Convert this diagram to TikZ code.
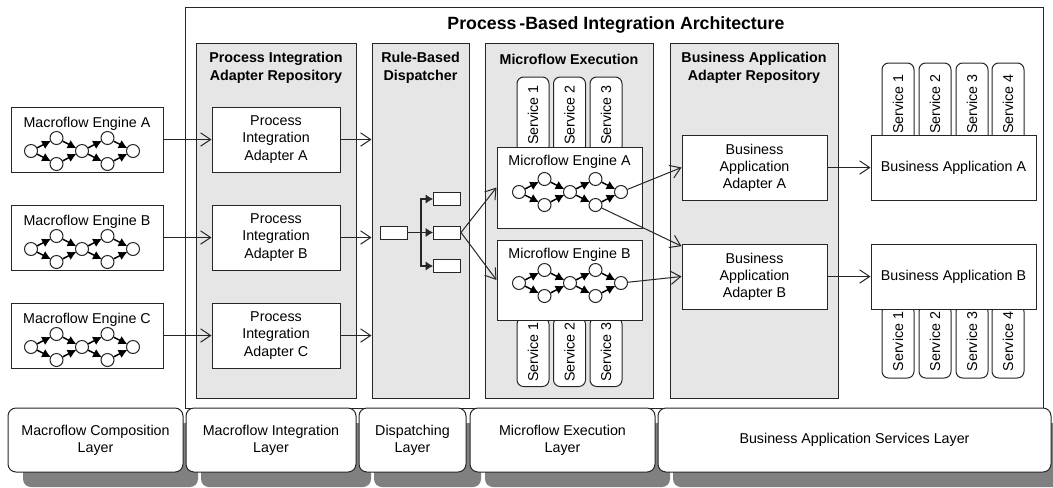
\documentclass[tikz,border=0pt]{standalone}
\usepackage{fontspec}
\setmainfont{Liberation Sans}
\usetikzlibrary{arrows.meta, shadows}

\newcommand{\upx}{0.75pt}
\newcommand{\baseFont}{\fontsize{10.7}{12.8}\selectfont}
\newcommand{\headFont}{\fontsize{10.7}{13.5}\selectfont\bfseries}
\newcommand{\titleFont}{\fontsize{13.3}{16}\selectfont\bfseries}
\definecolor{lineGray}{HTML}{262626}
\definecolor{panelGray}{HTML}{E6E6E6}
\definecolor{shadowGray}{HTML}{808080}

% small petri net: name, x, y of the middle place
\newcommand{\petriNet}[3]{
    \node[place] (#1-s) at (#2-51,#3) {};
    \node[place] (#1-u1) at (#2-25.5,#3-13) {};
    \node[place] (#1-d1) at (#2-25.5,#3+13) {};
    \node[place] (#1-m) at (#2,#3) {};
    \node[place] (#1-u2) at (#2+25.5,#3-13) {};
    \node[place] (#1-d2) at (#2+25.5,#3+13) {};
    \node[place] (#1-e) at (#2+51,#3) {};
    \draw[token] (#1-s) -- (#1-u1);
    \draw[token] (#1-s) -- (#1-d1);
    \draw[token] (#1-u1) -- (#1-m);
    \draw[token] (#1-d1) -- (#1-m);
    \draw[token] (#1-m) -- (#1-u2);
    \draw[token] (#1-m) -- (#1-d2);
    \draw[token] (#1-u2) -- (#1-e);
    \draw[token] (#1-d2) -- (#1-e);
}

\begin{document}
\begin{tikzpicture}[
    x=\upx, y=-\upx,
    every node/.style={
        text centered, align=center, font=\baseFont, inner sep=0pt,
        },
    box/.style={draw=lineGray, fill=white, line width=0.75pt},
    panel/.style={draw=lineGray, fill=panelGray, line width=0.75pt, minimum height=355*\upx},
    panelHead/.style={font=\headFont},
    engineWidth/.style={minimum width=152*\upx},
    engineHeight/.style={minimum height=65*\upx},
    adapterWidth/.style={minimum width=128*\upx},
    microWidth/.style={minimum width=145*\upx},
    appWidth/.style={minimum width=165*\upx},
    tokenBox/.style={box, minimum width=27*\upx, minimum height=13*\upx},
    service/.style={box, rounded corners=5pt, rotate=90, minimum height=32*\upx},
    place/.style={circle, draw=lineGray, fill=white, line width=0.75pt, minimum size=13*\upx},
    token/.style={-{Latex[length=6.5pt, width=7pt]}, draw=black, line width=1.1pt, shorten >=-0.5pt},
    forkTip/.style={-{Latex[length=5.5pt, width=7pt]}, draw=lineGray, line width=1pt},
    flow/.style={-{Straight Barb[length=7.5pt, width=10pt]}, draw=lineGray, line width=0.75pt},
    layer/.style={box, rounded corners=6pt, minimum height=64*\upx,
        drop shadow={shadow xshift=11.25pt, shadow yshift=-11.25pt, fill=shadowGray, opacity=1}},
    ]
    \useasboundingbox (0,0) rectangle (1053,487);

    % architecture frame
    \node[draw=lineGray, line width=0.75pt, minimum width=858*\upx, minimum height=401*\upx] (arch) at (614,207.5) {};
    \node[font=\titleFont] (archTitle) at (616,25) {Process\,-Based Integration Architecture};

    % repositories
    \node[panel, minimum width=160*\upx] (piRepo) at (276,220.5) {};
    \node[panel, minimum width=97*\upx] (dispatcher) at (420.5,220.5) {};
    \node[panel, minimum width=168*\upx] (microExec) at (569,220.5) {};
    \node[panel, minimum width=168*\upx] (baRepo) at (754,220.5) {};
    \node[panelHead] (piRepoHead) at (276,68) {Process Integration\\Adapter Repository};
    \node[panelHead] (dispatcherHead) at (420.5,68) {Rule-Based\\Dispatcher};
    \node[panelHead] (microExecHead) at (569,59) {Microflow Execution};
    \node[panelHead] (baRepoHead) at (754,68) {Business Application\\Adapter Repository};

    % macroflow engines
    \node[box, engineWidth, engineHeight] (macroA) at (87,139.5) {};
    \node (macroAHead) at (87,124) {Macroflow Engine A};
    \petriNet{macroANet}{82}{151}
    \node[box, engineWidth, engineHeight] (macroB) at (87,237.5) {};
    \node (macroBHead) at (87,222) {Macroflow Engine B};
    \petriNet{macroBNet}{82}{249}
    \node[box, engineWidth, engineHeight] (macroC) at (87,335.5) {};
    \node (macroCHead) at (87,320) {Macroflow Engine C};
    \petriNet{macroCNet}{82}{347}

    % process integration adapters
    \node[box, adapterWidth, engineHeight] (piA) at (276,139.5) {Process\\Integration\\Adapter A};
    \node[box, adapterWidth, engineHeight] (piB) at (276,237.5) {Process\\Integration\\Adapter B};
    \node[box, adapterWidth, engineHeight] (piC) at (276,335.5) {Process\\Integration\\Adapter C};

    % dispatcher
    \node[tokenBox] (ruleIn) at (393.5,232.5) {};
    \node[tokenBox] (ruleOut1) at (447,199) {};
    \node[tokenBox] (ruleOut2) at (447,232.5) {};
    \node[tokenBox] (ruleOut3) at (447,266) {};
    \coordinate (ruleFork) at (421,232.5);

    % microflow engines and their services
    \node[service, minimum width=76*\upx] (microAS1) at (533,115) {Service 1};
    \node[service, minimum width=76*\upx] (microAS2) at (569.5,115) {Service 2};
    \node[service, minimum width=76*\upx] (microAS3) at (606,115) {Service 3};
    \node[service, minimum width=69*\upx] (microBS1) at (533,352) {Service 1};
    \node[service, minimum width=69*\upx] (microBS2) at (569.5,352) {Service 2};
    \node[service, minimum width=69*\upx] (microBS3) at (606,352) {Service 3};
    \node[box, microWidth, minimum height=81*\upx] (microA) at (569.5,187.5) {};
    \node (microAHead) at (569.5,162) {Microflow Engine A};
    \petriNet{microANet}{570}{192}
    \node[box, microWidth, minimum height=80*\upx] (microB) at (569.5,280) {};
    \node (microBHead) at (569.5,255) {Microflow Engine B};
    \petriNet{microBNet}{570}{283}

    % business application adapters
    \node[box, microWidth, engineHeight] (baA) at (754.5,167.5) {Business\\Application\\Adapter A};
    \node[box, microWidth, engineHeight] (baB) at (754.5,276.5) {Business\\Application\\Adapter B};

    % business applications and their services
    \node[service, minimum width=82*\upx] (appAS1) at (898,104) {Service 1};
    \node[service, minimum width=82*\upx] (appAS2) at (935,104) {Service 2};
    \node[service, minimum width=82*\upx] (appAS3) at (972,104) {Service 3};
    \node[service, minimum width=82*\upx] (appAS4) at (1008,104) {Service 4};
    \node[service, minimum width=73*\upx] (appBS1) at (898,341.5) {Service 1};
    \node[service, minimum width=73*\upx] (appBS2) at (935,341.5) {Service 2};
    \node[service, minimum width=73*\upx] (appBS3) at (972,341.5) {Service 3};
    \node[service, minimum width=73*\upx] (appBS4) at (1008,341.5) {Service 4};
    \node[box, appWidth, engineHeight] (appA) at (953.5,167.5) {Business Application A};
    \node[box, appWidth, engineHeight] (appB) at (953.5,276.5) {Business Application B};

    % connectors
    \draw[flow] (macroA) -- (piA);
    \draw[flow] (macroB) -- (piB);
    \draw[flow] (macroC) -- (piC);
    \draw[flow] (piA) -- (piA -| dispatcher.west);
    \draw[flow] (piB) -- (piB -| dispatcher.west);
    \draw[flow] (piC) -- (piC -| dispatcher.west);
    \draw[draw=lineGray, line width=1pt] (ruleIn) -- (ruleFork);
    \draw[forkTip] (ruleFork) -- (ruleOut2);
    \draw[forkTip] (ruleFork) |- (ruleOut1);
    \draw[forkTip] (ruleFork) |- (ruleOut3);
    \draw[flow] (ruleOut2.east) -- (microA.west);
    \draw[flow] (ruleOut2.east) -- (microB.west);
    \draw[flow] (microANet-e) -- (baA.west);
    \draw[flow] (microANet-d2) -- ([yshift=-2pt]baB.north west);
    \draw[flow] (microBNet-e) -- (baB.west);
    \draw[flow] (baA) -- (appA);
    \draw[flow] (baB) -- (appB);

    % layers
    \node[layer, minimum width=175*\upx] (layerMacroComp) at (95.5,440) {Macroflow Composition\\Layer};
    \node[layer, minimum width=170*\upx] (layerMacroInt) at (271,440) {Macroflow Integration\\Layer};
    \node[layer, minimum width=107*\upx] (layerDispatch) at (412.5,440) {Dispatching\\Layer};
    \node[layer, minimum width=185*\upx] (layerMicroExec) at (562.5,440) {Microflow Execution\\Layer};
    \node[layer, minimum width=393*\upx] (layerServices) at (854.5,440) {Business Application Services Layer};
\end{tikzpicture}
\end{document}
